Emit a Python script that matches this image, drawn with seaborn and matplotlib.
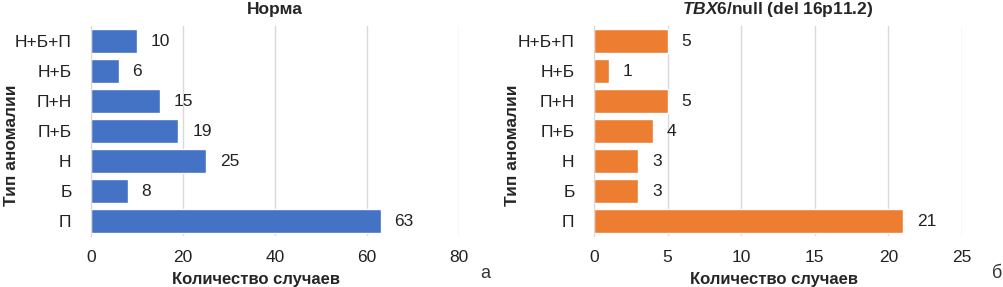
import matplotlib
matplotlib.use("Agg")
import matplotlib.pyplot as plt
import seaborn as sns
import pandas as pd

# Data
categories = ["Н+Б+П", "Н+Б", "П+Н", "П+Б", "Н", "Б", "П"]
norma_counts = [10, 6, 15, 19, 25, 8, 63]
tbx6_counts = [5, 1, 5, 4, 3, 3, 21]

sns.set_style("white")
plt.rcParams['font.family'] = ['Liberation Sans', 'DejaVu Sans']
plt.rcParams['mathtext.fontset'] = 'custom'
plt.rcParams['mathtext.it'] = 'Liberation Sans:bold:italic'
plt.rcParams['mathtext.rm'] = 'Liberation Sans:bold'

fig = plt.figure(figsize=(10.04, 2.87), dpi=100)
ax_left = fig.add_axes([0.0906, 0.1777, 0.3665, 0.7317])
ax_right = fig.add_axes([0.5916, 0.1777, 0.3665, 0.7317])

panels = [
    (ax_left, norma_counts, "#4472C4", "Норма", [0, 20, 40, 60, 80], 0.448, -0.196),
    (ax_right, tbx6_counts, "#ED7D31", r"$\mathit{TBX6}$/null (del 16p11.2)",
     [0, 5, 10, 15, 20, 25], 0.49, -0.201),
]

for ax, counts, color, title, ticks, xlab_x, ylab_x in panels:
    df = pd.DataFrame({"type": categories, "count": counts})
    sns.barplot(data=df, y="type", x="count", color=color, width=0.8,
                saturation=1, ax=ax, orient="h")
    ax.set_xlim(ticks[0], ticks[-1])
    ax.set_ylim(len(categories) - 0.5, -0.5)
    ax.set_xticks(ticks)
    ax.xaxis.grid(True, color="#d9d9d9", linewidth=1)
    ax.set_axisbelow(True)
    for side in ["top", "right", "bottom"]:
        ax.spines[side].set_visible(False)
    ax.spines["left"].set_color("#d9d9d9")
    ax.tick_params(axis="both", length=0, labelsize=12.5, colors="#222222")
    ax.tick_params(axis="y", pad=14)
    ax.tick_params(axis="x", pad=10)
    ax.bar_label(ax.containers[0], padding=10, fontsize=12.5, color="#222222")
    ax.set_title(title, fontsize=12.5, fontweight="bold", pad=9)
    ax.set_xlabel("Количество случаев", fontsize=12, fontweight="bold")
    ax.set_ylabel("Тип аномалии", fontsize=12.5, fontweight="bold")
    ax.xaxis.set_label_coords(xlab_x, -0.17)
    ax.yaxis.set_label_coords(ylab_x, 0.43)

fig.text(0.478, 0.03, "а", fontsize=13, color="#333333")
fig.text(0.988, 0.03, "б", fontsize=13, color="#333333")

fig.savefig("out.png", dpi=100)
